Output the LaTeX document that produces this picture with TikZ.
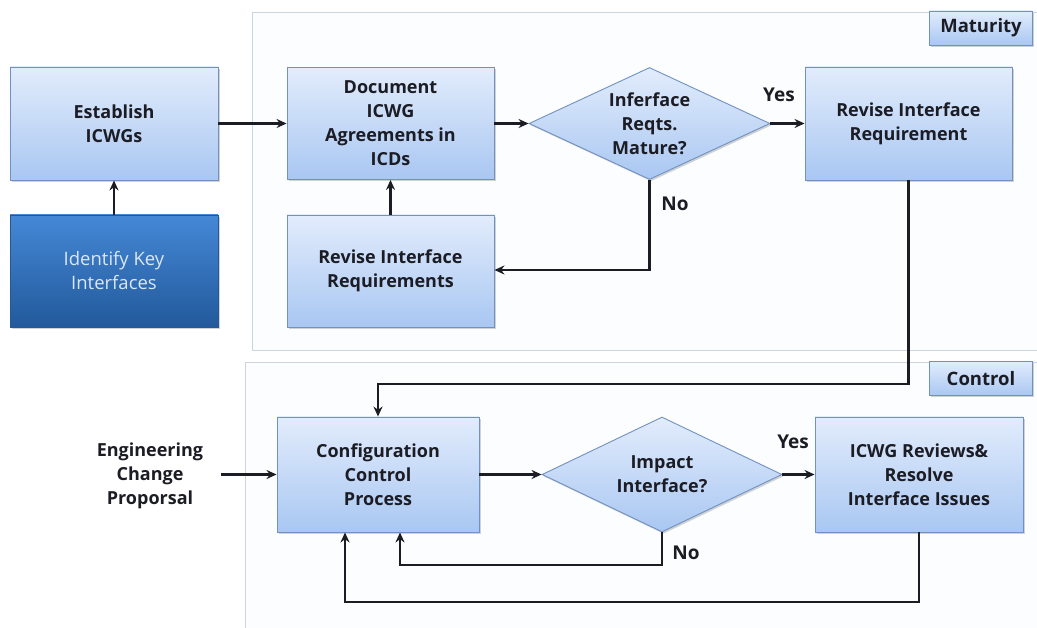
\documentclass[tikz,border=0pt]{standalone}
\usepackage{fontspec}
\setmainfont{Open Sans}
\usetikzlibrary{shapes.geometric,arrows.meta,shadows}
\definecolor{boxtop}{HTML}{E2ECFC}
\definecolor{boxbot}{HTML}{A9C7F2}
\definecolor{boxline}{HTML}{7091C2}
\definecolor{darktop}{HTML}{4588D6}
\definecolor{darkbot}{HTML}{22599B}
\definecolor{darktext}{HTML}{DCE7F4}
\definecolor{ink}{HTML}{1C1C24}
\definecolor{panelline}{HTML}{CCD4DE}
\definecolor{panelfill}{HTML}{FCFDFE}
\tikzset{
  txt/.style={font=\fontsize{18}{24}\selectfont\bfseries, text=ink, align=center},
  procbox/.style={txt, draw=boxline, line width=0.9pt, top color=boxtop, bottom color=boxbot,
    inner sep=0pt, drop shadow={shadow xshift=1.5pt, shadow yshift=-1.8pt, opacity=0.35}},
  darkbox/.style={draw=darkbot, line width=0.9pt, top color=darktop, bottom color=darkbot,
    inner sep=0pt, font=\fontsize{18.5}{24}\selectfont, text=darktext, align=center,
    drop shadow={shadow xshift=1.5pt, shadow yshift=-1.8pt, opacity=0.35}},
  decision/.style={procbox, diamond, aspect=2.1},
  tagbox/.style={procbox, font=\fontsize{18.5}{24}\selectfont\bfseries, minimum width=103pt, minimum height=34pt},
  panel/.style={draw=panelline, line width=0.9pt, fill=panelfill},
  lbl/.style={font=\fontsize{19}{22}\selectfont\bfseries, text=ink},
  arr/.style={draw=ink, line width=2.2pt, -{Stealth[length=10pt,width=9pt]}}
}
\begin{document}
\begin{tikzpicture}[x=1pt,y=-1pt]
\useasboundingbox (0,0) rectangle (1037,628);
\clip (0,0) rectangle (1037,628);
\fill[white] (0,0) rectangle (1037,628);

% swim-lane panels
\draw[panel] (252,12) rectangle (1045,350);
\draw[panel] (245,362) rectangle (1045,640);
\node[tagbox] (tagM) at (981,28) {Maturity};
\node[tagbox] (tagC) at (981,378.5) {Control};

% maturity lane
\node[procbox, minimum width=208pt, minimum height=113pt] (estab) at (114,123.5) {Establish\\ICWGs};
\node[darkbox, minimum width=208pt, minimum height=112pt] (ident) at (114,271) {Identify Key\\Interfaces};
\node[procbox, minimum width=207pt, minimum height=112pt] (doc) at (390.5,123.5) {Document\\ICWG\\Agreements in\\ICDs};
\node[procbox, minimum width=207pt, minimum height=112pt] (revl) at (390.5,271) {Revise Interface\\Requirements};
\node[decision, minimum width=241pt, minimum height=112pt] (dm) at (649.5,123.5) {Inferface\\Reqts.\\Mature?};
\node[procbox, minimum width=207pt, minimum height=113pt] (revr) at (908.5,123.5) {Revise Interface\\Requirement};

% control lane
\node[txt] (ecp) at (150,476) {Engineering\\Change\\Proporsal};
\node[procbox, minimum width=202pt, minimum height=115pt] (ccp) at (378,474.5) {Configuration\\Control\\Process};
\node[decision, minimum width=240pt, minimum height=115pt] (di) at (662,474.5) {Impact\\Interface?};
\node[procbox, minimum width=208pt, minimum height=115pt] (icwg) at (919,474.5) {ICWG Reviews\&\\Resolve\\Interface Issues};

% bend points
\coordinate (noM) at (649.5,270);
\coordinate (down) at (378,384);
\coordinate (noI) at (400,565);
\coordinate (loop) at (345,602);

% connectors
\draw[arr] (ident) -- (estab);
\draw[arr] (estab) -- (doc);
\draw[arr] (revl) -- (doc);
\draw[arr] (doc) -- (dm);
\draw[arr] (dm) -- (revr) node[lbl, pos=0.25, above=17pt] {Yes};
\draw[arr] (dm.south) -- (noM) -- (noM -| revl.east);
\node[lbl] (noMlbl) at (675,204) {No};
\draw[arr] (revr.south) |- (down) -- (ccp);
\draw[arr, shorten <=14pt] (ecp.east |- ccp.west) -- (ccp.west);
\draw[arr] (ccp) -- (di);
\draw[arr] (di) -- (icwg) node[lbl, pos=0.33, above=21pt] {Yes};
\draw[arr] (di.south) |- (noI) -- (noI |- ccp.south);
\node[lbl] (noIlbl) at (686,553) {No};
\draw[arr] (icwg.south) |- (loop) -- (loop |- ccp.south);
\end{tikzpicture}
\end{document}
